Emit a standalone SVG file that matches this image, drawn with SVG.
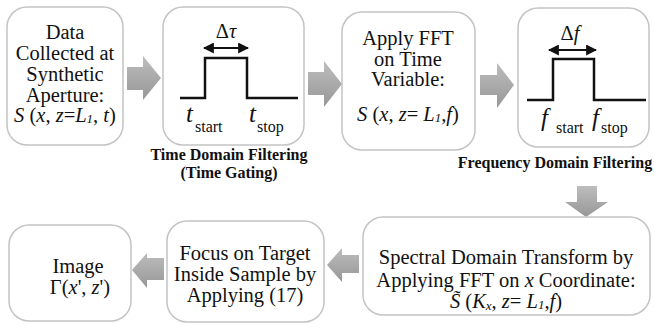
<svg xmlns="http://www.w3.org/2000/svg" width="654" height="325" viewBox="0 0 654 325">
<style>
.box{fill:#fff;stroke:#c4c4c4;stroke-width:1.5}
text{font-family:"Liberation Serif",Tinos,"Times New Roman","DejaVu Serif",serif;fill:#111}
.t{font-size:20.5px;text-anchor:middle}
.i{font-style:italic}
.sub{font-style:italic;font-size:13px}
.cap{font-size:16px;font-weight:bold;text-anchor:middle}
.big{font-size:25px;font-style:italic}
.sm{font-size:16px}
.pulse{fill:none;stroke:#111;stroke-width:2.5}
.dbl{stroke:#111;stroke-width:2.2;marker-start:url(#ah);marker-end:url(#ah)}
.arr{fill:url(#g)}
</style>
<defs>
<linearGradient id="g" x1="0" y1="0" x2="0" y2="1">
<stop offset="0" stop-color="#bdbdbd"/>
<stop offset="1" stop-color="#979797"/>
</linearGradient>
<marker id="ah" viewBox="0 0 10 10" refX="9" refY="5" markerWidth="5" markerHeight="5" orient="auto-start-reverse" markerUnits="strokeWidth">
<path d="M0,0 L10,5 L0,10 Z" fill="#111"/>
</marker>
</defs>

<g id="connectors">
<path class="arr" d="M127,67 H143 V56 L161,78 L143,100 V90 H127 Z"/>
<path class="arr" d="M308,72 H324 V61 L342,84 L324,107 V95 H308 Z"/>
<path class="arr" d="M480,75 H497 V63 L514,85 L497,108 V95 H480 Z"/>
<path class="arr" d="M577,186 H597 V202 H608 L586,217 L565,202 H577 Z"/>
<path class="arr" d="M359,255 H342 V248 L327,265 L342,282 V273 H359 Z"/>
<path class="arr" d="M164,258 H147 V253 L132,270 L147,288 V280 H164 Z"/>
</g>

<g id="n1">
<rect class="box" x="7" y="7" width="116" height="138" rx="20"/>
<text class="t" font-size="20"><tspan x="65" y="39">Data</tspan><tspan x="65" y="60">Collected at</tspan><tspan x="65" y="81">Synthetic</tspan><tspan x="65" y="101.5">Aperture:</tspan><tspan x="65" y="122"><tspan class="i">S</tspan> (<tspan class="i">x</tspan>, <tspan class="i">z</tspan>=<tspan class="i">L</tspan><tspan class="sub" dy="1">1</tspan><tspan dy="-1">, </tspan><tspan class="i">t</tspan>)</tspan></text>
</g>

<g id="n2">
<rect class="box" x="163" y="7" width="141" height="138" rx="20"/>
<text class="t" x="226" y="38" font-size="22">Δ<tspan class="i">τ</tspan></text>
<line class="dbl" x1="204" y1="48" x2="248" y2="48"/>
<polyline class="pulse" points="180,98 205,98 205,58 247,58 247,98 298,98"/>
<text class="big" x="186" y="122">t</text>
<text class="sm" x="195" y="132">start</text>
<text class="big" x="249" y="122">t</text>
<text class="sm" x="257" y="132">stop</text>
<text class="cap"><tspan x="229" y="160">Time Domain Filtering</tspan><tspan x="229" y="178">(Time Gating)</tspan></text>
</g>

<g id="n3">
<rect class="box" x="342" y="12" width="133" height="138" rx="20"/>
<text class="t"><tspan x="408" y="45">Apply FFT</tspan><tspan x="408" y="65.5">on Time</tspan><tspan x="408" y="86">Variable:</tspan><tspan x="408" y="121"><tspan class="i">S</tspan> (<tspan class="i">x</tspan>, <tspan class="i">z</tspan>= <tspan class="i">L</tspan><tspan class="sub" dy="1">1</tspan><tspan dy="-1">,</tspan><tspan class="i">f</tspan>)</tspan></text>
</g>

<g id="n4">
<rect class="box" x="518" y="8" width="131" height="139" rx="20"/>
<text class="t" x="570" y="40" font-size="22">Δ<tspan class="i">f</tspan></text>
<line class="dbl" x1="549" y1="50" x2="596" y2="50"/>
<polyline class="pulse" points="527,100 553,100 553,59 594,59 594,100 646,100"/>
<text class="big" x="541" y="126" font-size="24">f</text>
<text class="sm" x="556" y="133">start</text>
<text class="big" x="592" y="126" font-size="24">f</text>
<text class="sm" x="601" y="133">stop</text>
<text class="cap" x="555" y="168">Frequency  Domain Filtering</text>
</g>

<g id="n5">
<rect class="box" x="363" y="217" width="287" height="98" rx="20"/>
<text class="t" font-size="21"><tspan x="506" y="264">Spectral Domain Transform by</tspan><tspan x="506" y="287">Applying FFT on <tspan class="i">x</tspan> Coordinate:</tspan><tspan x="506" y="308"><tspan class="i">S̃</tspan> (<tspan class="i">K</tspan><tspan class="sub" dy="2">x</tspan><tspan dy="-2">, </tspan><tspan class="i">z</tspan>= <tspan class="i">L</tspan><tspan class="sub" dy="1">1</tspan><tspan dy="-1">,</tspan><tspan class="i">f</tspan>)</tspan></text>
</g>

<g id="n6">
<rect class="box" x="167" y="221" width="157" height="101" rx="20"/>
<text class="t"><tspan x="245" y="260">Focus on Target</tspan><tspan x="245" y="281">Inside Sample by</tspan><tspan x="245" y="301.5">Applying (17)</tspan></text>
</g>

<g id="n7">
<rect class="box" x="9" y="225" width="122" height="96" rx="20"/>
<text class="t"><tspan x="78" y="273">Image</tspan><tspan x="80" y="294">Γ(<tspan class="i">x</tspan>', <tspan class="i">z</tspan>')</tspan></text>
</g>
</svg>
